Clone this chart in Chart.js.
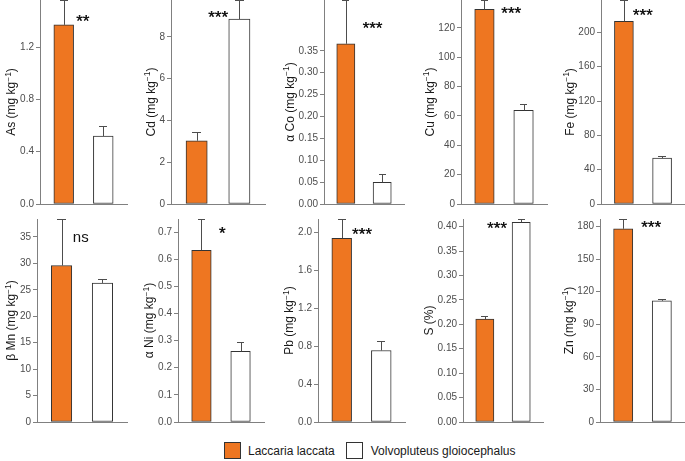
<!DOCTYPE html>
<html>
<head>
<meta charset="utf-8">
<script src="https://cdn.jsdelivr.net/npm/chart.js@4.4.1/dist/chart.umd.min.js"></script>
<style>
  html, body { margin: 0; padding: 0; background: #fff; }
  body { position: relative; width: 685px; height: 461px; overflow: hidden; font-family: 'Liberation Sans', Arial, sans-serif; }
  .panel { position: absolute; }
  .legend { position: absolute; left: 224px; top: 442px; height: 17px; display: flex; align-items: center; font-size: 12px; color: #1a1a1a; white-space: nowrap; }
  .key { display: inline-block; width: 17px; height: 17px; box-sizing: border-box; border: 1px solid #333; }
</style>
</head>
<body>
<div id="charts"></div>
<div class="legend">
  <span class="key" style="background:#EE7621"></span><span style="margin-left:7px;margin-right:11px">Laccaria laccata</span>
  <span class="key" style="background:#fff"></span><span style="margin-left:8px">Volvopluteus gloiocephalus</span>
</div>
<script>
// Data
const species = ['Laccaria laccata', 'Volvopluteus gloiocephalus'];
const elements = ['As', 'Cd', 'Co', 'Cu', 'Fe', 'Mn', 'Ni', 'Pb', 'S', 'Zn'];
const yTitles = ['As (mg kg{−1})', 'Cd (mg kg{−1})', 'α Co (mg kg{−1})', 'Cu (mg kg{−1})', 'Fe (mg kg{−1})',
                 'β Mn (mg kg{−1})', 'α Ni (mg kg{−1})', 'Pb (mg kg{−1})', 'S (%)', 'Zn (mg kg{−1})'];
const laccariaMeans  = [1.37, 3.03, 0.366, 132.5, 212.9, 29.6, 0.633, 1.934, 0.2105, 178];
const laccariaErrors = [0.19, 0.43, 0.100, 6.4, 24.8, 8.8, 0.115, 0.203, 0.006, 9];
const volvoMeans     = [0.52, 8.86, 0.0495, 63.8, 53.6, 26.3, 0.26, 0.753, 0.4088, 111.6];
const volvoErrors    = [0.076, 0.91, 0.0185, 4.1, 2.0, 0.8, 0.033, 0.101, 0.0068, 1.5];
const significance = ['**', '***', '***', '***', '***', 'ns', '*', '***', '***', '***'];
const sigX = [1.48, 1.5, 1.73, 1.68, 1.49, 1.47, 1.53, 1.51, 1.33, 1.72];
const sigY = [1.42, 9.1, 0.409, 132, 224, 34.8, 0.707, 2.01, 0.404, 182];
const tickLabels = [
  ['0.0', '0.4', '0.8', '1.2'],
  ['0', '2', '4', '6', '8'],
  ['0.00', '0.05', '0.10', '0.15', '0.20', '0.25', '0.30', '0.35'],
  ['0', '20', '40', '60', '80', '100', '120'],
  ['0', '40', '80', '120', '160', '200'],
  ['0', '5', '10', '15', '20', '25', '30', '35'],
  ['0.0', '0.1', '0.2', '0.3', '0.4', '0.5', '0.6', '0.7'],
  ['0.0', '0.4', '0.8', '1.2', '1.6', '2.0'],
  ['0.00', '0.05', '0.10', '0.15', '0.20', '0.25', '0.30', '0.35', '0.40'],
  ['0', '30', '60', '90', '120', '150', '180']
];

// Layout of the 2 x 5 grid (page pixels)
const panelAxisX = [40, 171, 324, 461, 601, 37, 178, 318, 463, 600];
const panelRight = [127, 264.5, 404, 546.8, 684.5, 127, 264, 405, 543, 684.5];
const rowTop = [0, 219];
const rowBottom = [204, 422];
const LEFT = 46;
const FONT = "'Liberation Sans', Arial, sans-serif";
const barColors = ['#EE7621', '#ffffff'];

Chart.defaults.font.family = FONT;

// Upper error bars
const errorBars = {
  id: 'errorBars',
  afterDatasetsDraw(chart) {
    const {ctx, chartArea} = chart;
    const xs = chart.scales.x, ys = chart.scales.y;
    const ds = chart.data.datasets[0];
    const meta = chart.getDatasetMeta(0);
    ctx.save();
    ctx.beginPath();
    ctx.rect(chartArea.left, chartArea.top - 1, chartArea.width, chartArea.height + 1);
    ctx.clip();
    ctx.strokeStyle = '#4d4d4d';
    ctx.lineWidth = 1;
    meta.data.forEach((bar, k) => {
      const v = ds.data[k].y;
      const yBar = ys.getPixelForValue(v);
      const yTop = Math.round(ys.getPixelForValue(v + ds.errors[k])) + 0.5;
      const x = Math.round(bar.x) + 0.5;
      const x0 = xs.getPixelForValue(ds.data[k].x - 0.1);
      const x1 = xs.getPixelForValue(ds.data[k].x + 0.1);
      ctx.beginPath();
      ctx.moveTo(x, yBar);
      ctx.lineTo(x, yTop);
      ctx.moveTo(Math.round(x0), yTop);
      ctx.lineTo(Math.round(x1), yTop);
      ctx.stroke();
    });
    ctx.restore();
  }
};

// y title (with superscript) and significance marks
const annotations = {
  id: 'annotations',
  afterDraw(chart, args, opts) {
    const {ctx, chartArea} = chart;
    const xs = chart.scales.x, ys = chart.scales.y;
    const i = opts.index;
    ctx.save();
    // widest tick label
    ctx.font = '10px ' + FONT;
    let maxW = 0;
    tickLabels[i].forEach(t => { maxW = Math.max(maxW, ctx.measureText(t).width); });
    const labelLeft = chartArea.left - 4 - 2 - maxW;
    const baseX = labelLeft - 4.7;
    const yc = (chartArea.top + chartArea.bottom) / 2;
    const m = yTitles[i].match(/^(.*)\{(.*)\}(.*)$/);
    const parts = m ? [[m[1], 12, 0], [m[2], 8.5, -4.5], [m[3], 12, 0]] : [[yTitles[i], 12, 0]];
    let total = 0;
    parts.forEach(p => { ctx.font = p[1] + 'px ' + FONT; p.push(ctx.measureText(p[0]).width); total += p[3]; });
    ctx.translate(baseX, yc);
    ctx.rotate(-Math.PI / 2);
    ctx.fillStyle = '#1a1a1a';
    ctx.textAlign = 'left';
    ctx.textBaseline = 'alphabetic';
    let cx = -total / 2;
    parts.forEach(p => {
      ctx.font = p[1] + 'px ' + FONT;
      ctx.fillText(p[0], cx, p[2]);
      cx += p[3];
    });
    ctx.setTransform(1, 0, 0, 1, 0, 0);
    // significance
    const stars = significance[i].indexOf('*') >= 0;
    ctx.font = (stars ? '17px ' : '15px ') + FONT;
    ctx.textAlign = 'center';
    ctx.textBaseline = 'alphabetic';
    const mt = ctx.measureText(significance[i]);
    const sx = xs.getPixelForValue(sigX[i]);
    const sy = ys.getPixelForValue(sigY[i]) + (mt.actualBoundingBoxAscent - mt.actualBoundingBoxDescent) / 2;
    ctx.fillStyle = '#111';
    ctx.fillText(significance[i], sx, sy);
    if (stars) ctx.fillText(significance[i], sx + 0.4, sy);
    ctx.restore();
  }
};

function makePanel(i) {
  const row = i < 5 ? 0 : 1;
  const axisX = panelAxisX[i];
  const plotW = panelRight[i] - axisX;
  const unit = plotW / 2.2;
  const padTop = row === 0 ? 0 : 8;
  const top = rowTop[row] - padTop;
  const width = Math.ceil(LEFT + plotW + 2);
  const height = rowBottom[row] - top + 3;

  const div = document.createElement('div');
  div.className = 'panel';
  div.style.left = (axisX - LEFT) + 'px';
  div.style.top = top + 'px';
  div.style.width = width + 'px';
  div.style.height = height + 'px';
  const canvas = document.createElement('canvas');
  canvas.width = width;
  canvas.height = height;
  div.appendChild(canvas);
  document.getElementById('charts').appendChild(div);

  const means = [laccariaMeans[i], volvoMeans[i]];
  const errs = [laccariaErrors[i], volvoErrors[i]];
  const yMax = Math.max(means[0] + errs[0], means[1] + errs[1]);
  const ticks = tickLabels[i].map(Number);

  new Chart(canvas, {
    type: 'bar',
    data: {
      datasets: [{
        label: elements[i],
        data: species.map((s, k) => ({x: k + 1, y: means[k]})),
        errors: errs,
        backgroundColor: barColors,
        borderColor: '#333333',
        borderWidth: 1,
        borderSkipped: false,
        barThickness: unit * 0.5
      }]
    },
    options: {
      responsive: false,
      animation: false,
      events: [],
      layout: { padding: { top: padTop, right: 2, bottom: 3, left: 0 } },
      plugins: {
        legend: { display: false },
        tooltip: { enabled: false },
        annotations: { index: i }
      },
      scales: {
        x: {
          type: 'linear',
          min: 0.4,
          max: 2.6,
          offset: false,
          grid: { display: false, offset: false },
          ticks: { display: false },
          border: { display: true, color: '#808080', width: 1 },
          afterFit(s) { s.height = 0; s.paddingLeft = 0; s.paddingRight = 0; }
        },
        y: {
          min: 0,
          max: yMax,
          afterBuildTicks(s) { s.ticks = ticks.map(v => ({value: v})); },
          ticks: {
            autoSkip: false,
            padding: 2,
            color: '#4d4d4d',
            font: { size: 10 },
            callback: (v, idx) => tickLabels[i][idx]
          },
          grid: { drawOnChartArea: false, drawTicks: true, tickLength: 4, color: '#808080' },
          border: { color: '#808080', width: 1 },
          afterFit(s) { s.width = LEFT; s.paddingTop = 0; s.paddingBottom = 0; }
        }
      }
    },
    plugins: [errorBars, annotations]
  });
}

elements.forEach((e, i) => makePanel(i));
</script>
</body>
</html>
